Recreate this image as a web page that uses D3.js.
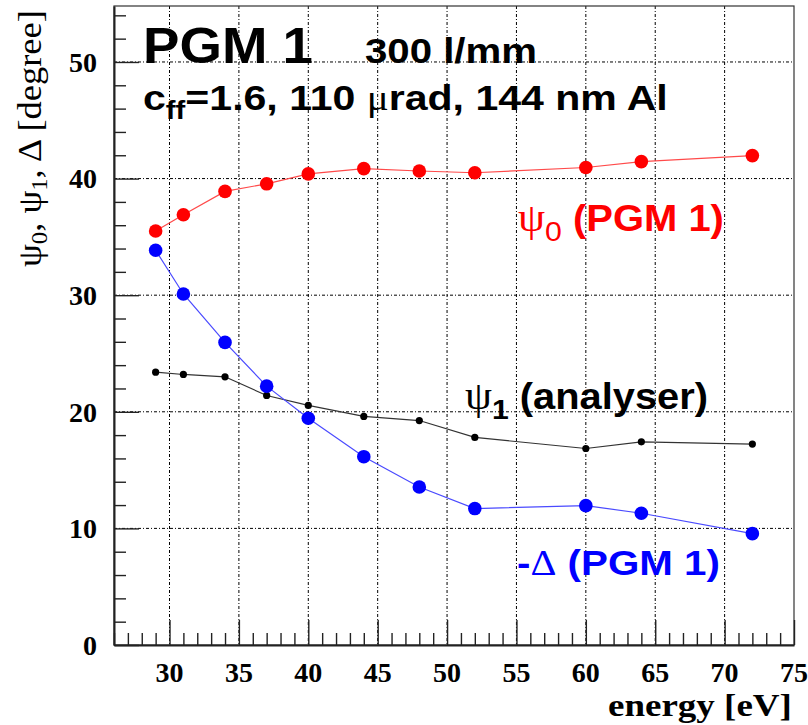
<!DOCTYPE html>
<html>
<head>
<meta charset="utf-8">
<script src="https://cdn.jsdelivr.net/npm/d3@7"></script>
<style>
  html, body { margin: 0; padding: 0; background: #fff; }
  svg { display: block; }
</style>
</head>
<body>
<svg id="chart" width="808" height="725"></svg>
<script>
// Photon energies (eV) where the angles were evaluated
const energy = [29, 31, 34, 37, 40, 44, 48, 52, 60, 64, 72];
// Grating angle psi0 (PGM 1), degrees
const psi0 = [35.5, 36.9, 38.9, 39.55, 40.4, 40.85, 40.65, 40.5, 40.95, 41.45, 41.97];
// Analyser angle psi1, degrees
const psi1 = [23.4, 23.2, 23.0, 21.4, 20.55, 19.6, 19.25, 17.8, 16.85, 17.42, 17.23];
// -Delta (PGM 1), degrees
const minusDelta = [33.85, 30.1, 25.95, 22.2, 19.45, 16.15, 13.55, 11.7, 11.95, 11.3, 9.55];

const xTicks = [30, 35, 40, 45, 50, 55, 60, 65, 70, 75];
const yTicks = [0, 10, 20, 30, 40, 50];

const plotL = 114, plotT = 6, plotR = 794, plotB = 645;

const svg = d3.select("#chart");
const x = d3.scaleLinear().domain([26, 75]).range([plotL, plotR]);
const y = d3.scaleLinear().domain([0, 54.8]).range([plotB, plotT]);

const SANS = "'Liberation Sans', Arial, Helvetica, sans-serif";
const SERIF = "'Liberation Serif', 'Times New Roman', Times, serif";

// grid at the major ticks
const grid = svg.append("g").attr("stroke", "#000").attr("stroke-width", 1)
  .attr("stroke-dasharray", "3,2,1,2").attr("fill", "none");
grid.selectAll("line.v").data(xTicks.filter(d => d > 26 && d < 75)).join("line")
  .attr("class", "v")
  .attr("x1", d => x(d)).attr("x2", d => x(d))
  .attr("y1", plotT).attr("y2", plotB);
grid.selectAll("line.h").data(yTicks.filter(d => d > 0)).join("line")
  .attr("class", "h")
  .attr("x1", plotL).attr("x2", plotR)
  .attr("y1", d => y(d)).attr("y2", d => y(d));

// frame
svg.append("rect").attr("x", plotL).attr("y", plotT)
  .attr("width", plotR - plotL).attr("height", plotB - plotT)
  .attr("fill", "none").attr("stroke", "#333").attr("stroke-width", 1.2);

// bottom axis: ticks point up into the frame
const xAxis = d3.axisBottom(x)
  .tickValues(d3.range(26, 76, 1))
  .tickSize(-12).tickSizeOuter(0).tickFormat("");
const gx = svg.append("g").attr("transform", `translate(0,${plotB})`).call(xAxis);
gx.selectAll(".tick line")
  .attr("y2", d => xTicks.includes(d) ? -25 : -12)
  .attr("stroke", "#222").attr("stroke-width", 1.4);
gx.select(".domain").attr("stroke", "#222").attr("stroke-width", 2);

svg.append("g").selectAll("text").data(xTicks).join("text")
  .attr("x", d => x(d)).attr("y", 682)
  .attr("text-anchor", "middle")
  .attr("font-family", SERIF).attr("font-weight", "bold").attr("font-size", 28)
  .attr("fill", "#000")
  .text(d => d);

// left axis: ticks point right into the frame
const yAxis = d3.axisLeft(y)
  .tickValues(d3.range(0, 55, 2))
  .tickSize(-12).tickSizeOuter(0).tickFormat("");
const gy = svg.append("g").attr("transform", `translate(${plotL},0)`).call(yAxis);
gy.selectAll(".tick line")
  .attr("x2", d => yTicks.includes(d) ? 25 : 12)
  .attr("stroke", "#222").attr("stroke-width", 1.4);
gy.select(".domain").attr("stroke", "#222").attr("stroke-width", 2);

svg.append("g").selectAll("text").data(yTicks).join("text")
  .attr("x", 97).attr("y", d => y(d)).attr("dy", "0.35em")
  .attr("text-anchor", "end")
  .attr("font-family", SERIF).attr("font-weight", "bold").attr("font-size", 28)
  .attr("fill", "#000")
  .text(d => d);

// stretch a text element horizontally to a target width
function fit(sel, x0, y0, width, rotate) {
  const bb = sel.node().getBBox();
  const s = width / bb.width;
  if (rotate) sel.attr("transform", `translate(${x0},${y0}) rotate(-90) scale(${s},1)`);
  else sel.attr("transform", `translate(${x0},${y0}) scale(${s},1)`);
}

// axis titles
const xt = svg.append("text").attr("x", 0).attr("y", 0)
  .attr("font-family", SERIF).attr("font-weight", "bold").attr("font-size", 31)
  .text("energy [eV]");
fit(xt, 608, 716, 184);

const yt = svg.append("text").attr("x", 0).attr("y", 0)
  .attr("font-family", SERIF).attr("font-size", 34);
yt.append("tspan").text("ψ");
yt.append("tspan").attr("font-size", 23).attr("dy", 6).text("0");
yt.append("tspan").attr("dy", -6).text(", ψ");
yt.append("tspan").attr("font-size", 23).attr("dy", 6).text("1");
yt.append("tspan").attr("dy", -6).text(", Δ [degree]");
fit(yt, 41, 267, 257, true);

// series
const series = [
  { values: psi0, fill: "#ff0000", line: "#ff4a4a", r: 6.8, w: 1.2 },
  { values: psi1, fill: "#000000", line: "#333333", r: 3.6, w: 1.2 },
  { values: minusDelta, fill: "#0000ff", line: "#4a4aff", r: 6.8, w: 1.2 }
];
const lineGen = d3.line().x(d => x(d[0])).y(d => y(d[1]));
series.forEach(s => {
  const pts = energy.map((e, i) => [e, s.values[i]]);
  svg.append("path").datum(pts)
    .attr("d", lineGen).attr("fill", "none")
    .attr("stroke", s.line).attr("stroke-width", s.w);
  svg.append("g").selectAll("circle").data(pts).join("circle")
    .attr("cx", d => x(d[0])).attr("cy", d => y(d[1]))
    .attr("r", s.r).attr("fill", s.fill);
});

// header texts
const t1 = svg.append("text").attr("font-family", SANS).attr("font-weight", "bold")
  .attr("font-size", 50).text("PGM 1");
fit(t1, 143, 63, 170);

const t2 = svg.append("text").attr("font-family", SANS).attr("font-weight", "bold")
  .attr("font-size", 36).text("300 l/mm");
fit(t2, 365, 63, 172);

const t3 = svg.append("text").attr("font-family", SANS).attr("font-weight", "bold")
  .attr("font-size", 35);
t3.append("tspan").text("c");
t3.append("tspan").attr("font-size", 25).attr("dy", 9).text("ff");
t3.append("tspan").attr("dy", -9).text("=1.6, 110 ");
t3.append("tspan").attr("font-family", SERIF).attr("font-weight", "normal").text("μ");
t3.append("tspan").text("rad, 144 nm Al");
fit(t3, 143, 110, 525);

// series labels
const l1 = svg.append("text").attr("font-family", SANS).attr("font-weight", "bold")
  .attr("font-size", 37).attr("fill", "#ff0000");
l1.append("tspan").attr("font-family", SERIF).attr("font-weight", "normal").attr("font-size", 40).text("ψ");
l1.append("tspan").attr("font-weight", "normal").attr("font-size", 28).attr("dy", 10).text("0");
l1.append("tspan").attr("dy", -10).text(" (PGM 1)");
fit(l1, 518, 231, 206);

const l2 = svg.append("text").attr("font-family", SANS).attr("font-weight", "bold")
  .attr("font-size", 37).attr("fill", "#000");
l2.append("tspan").attr("font-family", SERIF).attr("font-weight", "normal").attr("font-size", 40).text("ψ");
l2.append("tspan").attr("font-size", 28).attr("dy", 10).text("1");
l2.append("tspan").attr("dy", -10).text(" (analyser)");
fit(l2, 465, 409, 243);

const l3 = svg.append("text").attr("font-family", SANS).attr("font-weight", "bold")
  .attr("font-size", 35).attr("fill", "#0000ff");
l3.append("tspan").text("-");
l3.append("tspan").attr("font-family", SERIF).attr("font-weight", "normal").text("Δ");
l3.append("tspan").text(" (PGM 1)");
fit(l3, 517, 575, 203);
</script>
</body>
</html>
